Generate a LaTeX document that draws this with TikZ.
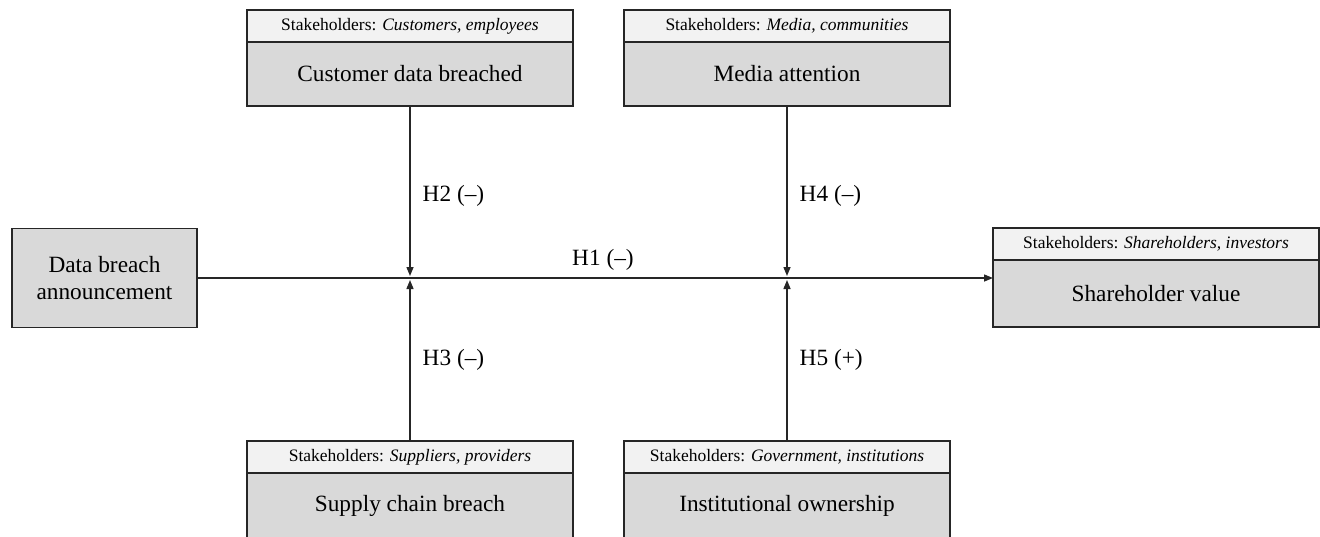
\documentclass[tikz,border=0pt]{standalone}
\usepackage{fontspec}
\setmainfont{Liberation Serif}
\usetikzlibrary{positioning,arrows.meta}

\definecolor{headgray}{HTML}{F2F2F2}
\definecolor{boxgray}{HTML}{D9D9D9}
\definecolor{edgegray}{HTML}{262626}

\tikzset{
  base/.style={draw=edgegray, line width=1.3pt, inner sep=0pt, outer sep=0pt, align=center},
  stakehead/.style={base, fill=headgray, minimum width=326pt, minimum height=32pt,
    font=\fontsize{17.5}{21}\selectfont},
  stakebody/.style={base, fill=boxgray, minimum width=326pt, minimum height=64pt,
    font=\fontsize{23.3}{27}\selectfont},
  link/.style={line width=1.4pt, draw=edgegray, -{Triangle[length=9pt,width=7pt]}},
  hyp/.style={font=\fontsize{23.3}{27}\selectfont, inner sep=0pt},
}

\begin{document}
\begin{tikzpicture}[x=1pt,y=-1pt]
\useasboundingbox (0,0) rectangle (1320,536);

% independent and dependent variable
\node[stakebody, minimum width=185pt, minimum height=99pt] (announce) at (104.5,278) {Data breach\\announcement};
\node[stakehead] (valuehead) at (1156,244) {Stakeholders: \textit{Shareholders, investors}};
\node[stakebody, minimum height=67pt, below=0pt of valuehead] (value) {Shareholder value};

% moderators above
\node[stakehead] (custhead) at (410,26) {Stakeholders: \textit{Customers, employees}};
\node[stakebody, below=0pt of custhead] (cust) {Customer data breached};
\node[stakehead] (mediahead) at (787,26) {Stakeholders: \textit{Media, communities}};
\node[stakebody, below=0pt of mediahead] (media) {Media attention};

% moderators below
\node[stakehead] (supphead) at (410,457) {Stakeholders: \textit{Suppliers, providers}};
\node[stakebody, minimum height=65pt, below=0pt of supphead] (supp) {Supply chain breach};
\node[stakehead] (insthead) at (787,457) {Stakeholders: \textit{Government, institutions}};
\node[stakebody, minimum height=65pt, below=0pt of insthead] (inst) {Institutional ownership};

\coordinate (j1) at (cust.south |- announce.east);
\coordinate (j2) at (media.south |- announce.east);

\draw[link] (announce.east) -- (announce.east -| value.west) node[hyp, pos=0.51, above=7pt] {H1 (--)};
\draw[link, shorten >=2pt] (cust.south) -- (j1) node[hyp, pos=0.52, right=12pt] {H2 (--)};
\draw[link, shorten >=2pt] (supphead.north) -- (j1) node[hyp, midway, right=12pt] {H3 (--)};
\draw[link, shorten >=2pt] (media.south) -- (j2) node[hyp, pos=0.52, right=12pt] {H4 (--)};
\draw[link, shorten >=2pt] (insthead.north) -- (j2) node[hyp, midway, right=12pt] {H5 (+)};
\end{tikzpicture}
\end{document}
